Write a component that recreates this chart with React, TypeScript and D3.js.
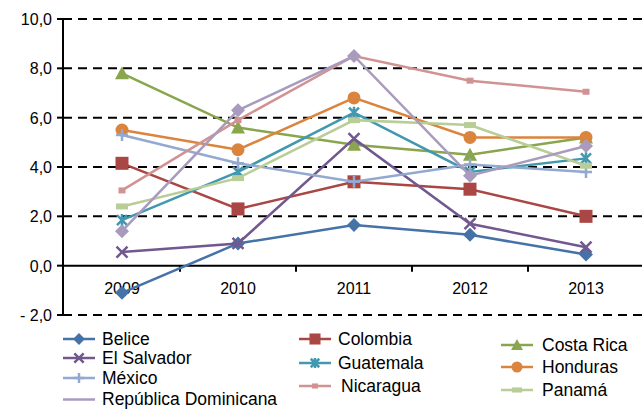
import React from "react";
import * as d3 from "d3";

const years = ["2009", "2010", "2011", "2012", "2013"];
const yTicks = [-2, 0, 2, 4, 6, 8, 10];

const belice = [-1.1, 0.9, 1.65, 1.25, 0.45];
const colombia = [4.15, 2.3, 3.4, 3.1, 2.0];
const costaRica = [7.8, 5.6, 4.9, 4.5, 5.2];
const elSalvador = [0.55, 0.9, 5.15, 1.7, 0.75];
const guatemala = [1.85, 3.8, 6.2, 3.8, 4.35];
const honduras = [5.5, 4.7, 6.8, 5.2, 5.2];
const mexico = [5.3, 4.15, 3.4, 4.1, 3.8];
const nicaragua = [3.05, 5.9, 8.5, 7.5, 7.05];
const panama = [2.4, 3.55, 5.9, 5.7, 4.05];
const repDom = [1.4, 6.3, 8.5, 3.65, 4.85];

type Marker = "diamond" | "square" | "triangle" | "x" | "asterisk" | "circle" | "plus" | "smallsq" | "dash" | "none";

const series: { name: string; values: number[]; color: string; marker: Marker; dataMarker: Marker }[] = [
  { name: "Belice", values: belice, color: "#4572A7", marker: "diamond", dataMarker: "diamond" },
  { name: "Colombia", values: colombia, color: "#AA4643", marker: "square", dataMarker: "square" },
  { name: "Costa Rica", values: costaRica, color: "#89A54E", marker: "triangle", dataMarker: "triangle" },
  { name: "El Salvador", values: elSalvador, color: "#71588F", marker: "x", dataMarker: "x" },
  { name: "Guatemala", values: guatemala, color: "#4198AF", marker: "asterisk", dataMarker: "asterisk" },
  { name: "Honduras", values: honduras, color: "#DB843D", marker: "circle", dataMarker: "circle" },
  { name: "México", values: mexico, color: "#93A9CF", marker: "plus", dataMarker: "plus" },
  { name: "Nicaragua", values: nicaragua, color: "#D19392", marker: "smallsq", dataMarker: "smallsq" },
  { name: "Panamá", values: panama, color: "#B9CD96", marker: "dash", dataMarker: "dash" },
  { name: "República Dominicana", values: repDom, color: "#A99BBD", marker: "none", dataMarker: "diamond" },
];

const legendPos = [
  { x: 63, y: 339, tx: 102 },
  { x: 299, y: 339, tx: 338 },
  { x: 501, y: 345, tx: 542 },
  { x: 63, y: 358, tx: 102 },
  { x: 299, y: 363, tx: 338 },
  { x: 501, y: 367, tx: 542 },
  { x: 63, y: 378, tx: 102 },
  { x: 299, y: 386, tx: 341 },
  { x: 501, y: 390, tx: 542 },
  { x: 63, y: 399.5, tx: 102 },
];

function MarkerShape({ type, x, y, color, s = 1 }: { type: Marker; x: number; y: number; color: string; s?: number }) {
  switch (type) {
    case "diamond":
      return <path d={`M${x},${y - 7 * s}L${x + 7 * s},${y}L${x},${y + 7 * s}L${x - 7 * s},${y}Z`} fill={color} />;
    case "square":
      return <rect x={x - 6.5 * s} y={y - 6.5 * s} width={13 * s} height={13 * s} fill={color} />;
    case "triangle":
      return <path d={`M${x},${y - 7 * s}L${x + 7 * s},${y + 6 * s}L${x - 7 * s},${y + 6 * s}Z`} fill={color} />;
    case "circle":
      return <circle cx={x} cy={y} r={6.5 * s} fill={color} />;
    case "x":
      return (
        <path
          d={`M${x - 5.5 * s},${y - 5.5 * s}L${x + 5.5 * s},${y + 5.5 * s}M${x - 5.5 * s},${y + 5.5 * s}L${x + 5.5 * s},${y - 5.5 * s}`}
          stroke={color}
          strokeWidth={2.5}
        />
      );
    case "asterisk":
      return (
        <path
          d={`M${x - 5 * s},${y - 5 * s}L${x + 5 * s},${y + 5 * s}M${x - 5 * s},${y + 5 * s}L${x + 5 * s},${y - 5 * s}M${x},${y - 6 * s}L${x},${y + 6 * s}`}
          stroke={color}
          strokeWidth={2.5}
        />
      );
    case "plus":
      return (
        <path d={`M${x - 6 * s},${y}L${x + 6 * s},${y}M${x},${y - 6 * s}L${x},${y + 6 * s}`} stroke={color} strokeWidth={2.5} />
      );
    case "smallsq":
      return <rect x={x - 3.5 * s} y={y - 3 * s} width={7 * s} height={6 * s} fill={color} />;
    case "dash":
      return <rect x={x - 6 * s} y={y - 3 * s} width={12 * s} height={6 * s} fill={color} />;
    default:
      return null;
  }
}

export default function App() {
  const width = 642;
  const height = 409;
  const left = 63;
  const plotRight = 644;
  const x = d3.scaleBand<string>().domain(years).range([left + 1, plotRight]).paddingInner(0).paddingOuter(0);
  const y = d3.scaleLinear().domain([-2, 10]).range([315, 19]);
  const cx = (yr: string) => (x(yr) as number) + x.bandwidth() / 2;
  const line = d3
    .line<number>()
    .x((_, i) => cx(years[i]))
    .y((d) => y(d));
  const font = "'Liberation Sans', Arial, sans-serif";
  const fmt = (t: number) => d3.format(".1f")(Math.abs(t)).replace(".", ",");

  return (
    <svg
      width={width}
      height={height}
      style={{ position: "absolute", left: 0, top: 0, background: "#fff" }}
      fontFamily={font}
    >
      {yTicks.map((t) =>
        t === 0 ? null : (
          <line key={t} x1={left} x2={width} y1={y(t)} y2={y(t)} stroke="#000" strokeWidth={2} strokeDasharray="9,6" />
        )
      )}
      {yTicks.map((t) => (
        <g key={"yl" + t}>
          <line x1={left - 6} x2={left} y1={y(t)} y2={y(t)} stroke="#000" strokeWidth={2} />
          <text x={52} y={y(t) + 6} textAnchor="end" fontSize={16} fill="#000">
            {t < 0 ? "- " + fmt(t) : fmt(t)}
          </text>
        </g>
      ))}
      <line x1={left} x2={left} y1={y(10)} y2={y(-2) + 1} stroke="#000" strokeWidth={2} />
      <line x1={left} x2={width} y1={y(0)} y2={y(0)} stroke="#000" strokeWidth={2} />
      {years.slice(1).map((yr) => (
        <line key={"xt" + yr} x1={x(yr) as number} x2={x(yr) as number} y1={y(0)} y2={y(0) + 6} stroke="#000" strokeWidth={2} />
      ))}
      {years.map((yr) => (
        <text key={"xl" + yr} x={cx(yr)} y={294} textAnchor="middle" fontSize={16} fill="#000">
          {yr}
        </text>
      ))}
      {series.map((s) => (
        <g key={s.name}>
          <path d={line(s.values) || ""} fill="none" stroke={s.color} strokeWidth={2.5} />
          {s.values.map((v, i) => (
            <MarkerShape key={i} type={s.dataMarker} x={cx(years[i])} y={y(v)} color={s.color} />
          ))}
        </g>
      ))}
      {series.map((s, i) => {
        const p = legendPos[i];
        return (
          <g key={"lg" + s.name}>
            <line x1={p.x} x2={p.x + 32} y1={p.y} y2={p.y} stroke={s.color} strokeWidth={2.5} />
            <MarkerShape type={s.marker} x={p.x + 16} y={p.y} color={s.color} s={0.85} />
            <text x={p.tx} y={p.y + 5.5} fontSize={17.5} fill="#000">
              {s.name}
            </text>
          </g>
        );
      })}
    </svg>
  );
}
